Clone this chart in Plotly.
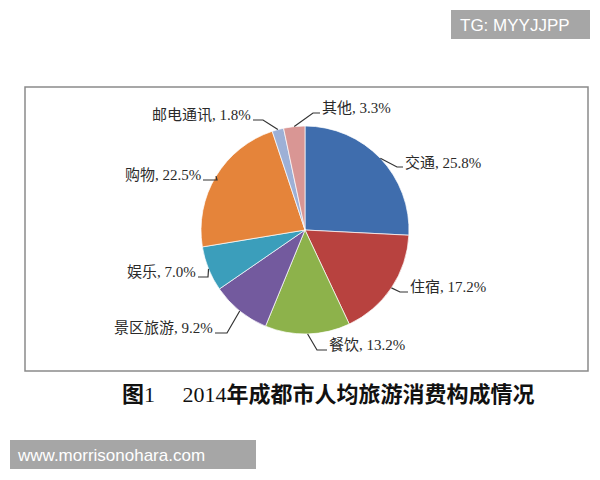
import math
import plotly.graph_objects as go

# data
categories = ['交通', '住宿', '餐饮', '景区旅游', '娱乐', '购物', '邮电通讯', '其他']
shares = [25.8, 17.2, 13.2, 9.2, 7.0, 22.5, 1.8, 3.3]
colors = ['#3F6DAD', '#B8423F', '#8DB24B', '#735A9E', '#3B9EBB', '#E5843A', '#9DB0D6', '#D99694']

# the page body has an 8px margin, so the figure is drawn 16px smaller
W, H = 584, 464
OFF = 8
cx, cy, R = 305, 230, 104   # pie centre and radius in screen px


def px(x, y):
    # screen px -> paper coords
    return (x - OFF) / W, 1 - (y - OFF) / H


# label placement (screen px): elbow of the leader, end of the leader, side of the text
label_pos = [
    ((397, 167), (403, 167), 'right'),
    ((400, 292), (408, 292), 'right'),
    ((317, 350), (327, 350), 'right'),
    ((227, 333), (215, 333), 'left'),
    ((208, 277), (198, 277), 'left'),
    ((217, 180), (203, 180), 'left'),
    ((263, 120), (253, 120), 'left'),
    ((313, 113), (320, 113), 'right'),
]

fig = go.Figure()
x0, y1 = px(cx - R, cy - R)
x1, y0 = px(cx + R, cy + R)
fig.add_trace(go.Pie(labels=categories, values=shares, sort=False,
                     direction='clockwise', rotation=0,
                     marker=dict(colors=colors, line=dict(color='rgba(255,255,255,0.7)', width=1)),
                     textinfo='none', hoverinfo='label+percent',
                     domain=dict(x=[x0, x1], y=[y0, y1]),
                     showlegend=False))

shapes = []
annotations = []
total = sum(shares)
cum = 0
for cat, v, (elbow, end, side) in zip(categories, shares, label_pos):
    a = 2 * math.pi * (cum + v / 2) / total
    cum += v
    ex, ey = cx + R * math.sin(a), cy - R * math.cos(a)
    p0, p1, p2 = px(ex, ey), px(*elbow), px(*end)
    shapes.append(dict(type='path', xref='paper', yref='paper',
                       path=f'M {p0[0]},{p0[1]} L {p1[0]},{p1[1]} L {p2[0]},{p2[1]}',
                       line=dict(color='#333333', width=1.2)))
    tx, ty = px(end[0], end[1] - 5)
    annotations.append(dict(x=tx, y=ty, xref='paper', yref='paper',
                            text=f'{cat}, {v:.1f}%', showarrow=False,
                            xanchor='left' if side == 'right' else 'right', yanchor='middle',
                            font=dict(family='Liberation Serif, Noto Sans CJK SC', size=15, color='#2a2a2a')))

# chart frame
bx0, by1 = px(25, 87)
bx1, by0 = px(588, 371)
shapes.append(dict(type='rect', xref='paper', yref='paper', x0=bx0, x1=bx1, y0=by0, y1=by1,
                   line=dict(color='#8a8a8a', width=1.5), layer='below'))

# caption
tx, ty = px(328, 392)
annotations.append(dict(x=tx, y=ty, xref='paper', yref='paper', showarrow=False,
                        xanchor='center', yanchor='middle',
                        text='<b>图</b><span style="font-family:Liberation Serif">1　 2014</span>'
                             '<b>年成都市人均旅游消费构成情况</b>',
                        font=dict(family='Noto Sans CJK SC', size=22, color='#111111')))

# watermarks
wx0, wy1 = px(451, 10)
wx1, wy0 = px(590, 39)
shapes.append(dict(type='rect', xref='paper', yref='paper', x0=wx0, x1=wx1, y0=wy0, y1=wy1,
                   fillcolor='#A6A6A6', line=dict(width=0)))
tx, ty = px(458, 25)
annotations.append(dict(x=tx, y=ty, xref='paper', yref='paper', showarrow=False,
                        xanchor='left', yanchor='middle', text='TG: MYYJJPP',
                        font=dict(family='Liberation Sans', size=17, color='white')))
wx0, wy1 = px(10, 440)
wx1, wy0 = px(256, 469)
shapes.append(dict(type='rect', xref='paper', yref='paper', x0=wx0, x1=wx1, y0=wy0, y1=wy1,
                   fillcolor='#A6A6A6', line=dict(width=0)))
tx, ty = px(15, 455)
annotations.append(dict(x=tx, y=ty, xref='paper', yref='paper', showarrow=False,
                        xanchor='left', yanchor='middle', text='www.morrisonohara.com',
                        font=dict(family='Liberation Sans', size=17, color='white')))

fig.update_layout(width=W, height=H, margin=dict(l=0, r=0, t=0, b=0),
                  paper_bgcolor='white', plot_bgcolor='white',
                  shapes=shapes, annotations=annotations)

fig.write_html("out.html")
